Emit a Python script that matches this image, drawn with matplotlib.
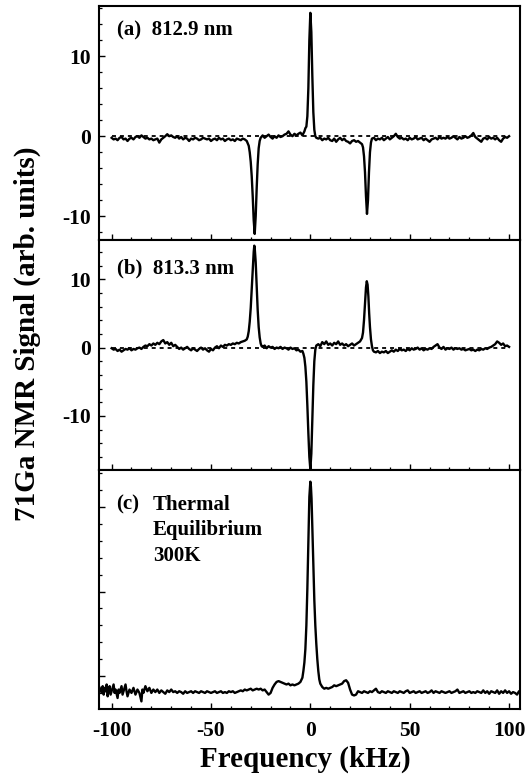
import numpy as np
import matplotlib
matplotlib.use('Agg')
import matplotlib.pyplot as plt
from matplotlib.ticker import MultipleLocator, FixedLocator

# ---- data ----
# (a) 812.9 nm
freq_a = [-100, -99, -98, -97, -96, -95, -94, -93, -92, -91, -90, -89, -88, -87, -86, -85, -84, -83, -82, -81,
          -80, -79, -78, -77, -76, -75, -74, -73, -72, -71, -70, -69, -68, -67, -66, -65, -64, -63, -62, -61,
          -60, -59, -58, -57, -56, -55, -54, -53, -52, -51, -50, -49, -48, -47, -46, -45, -44, -43, -42, -41,
          -40, -39, -38, -37, -36, -35, -34, -33, -32, -31, -30.5, -30, -29.5, -29, -28.5, -28, -27.5, -27,
          -26.5, -26, -25.5, -25, -24, -23, -22, -21, -20, -19, -18, -17, -16, -15, -14, -13, -12, -11, -10,
          -9, -8, -7, -6, -5, -4, -3, -2.5, -2, -1.5, -1, -0.5, 0, 0.5, 1, 1.5, 2, 2.5, 3,
          4, 5, 6, 7, 8, 9, 10, 11, 12, 13, 14, 15, 16, 17, 18, 19, 20, 21, 22, 23, 24, 25,
          26, 26.5, 27, 27.5, 28, 28.5, 29, 29.5, 30, 30.5, 31,
          32, 33, 34, 35, 36, 37, 38, 39, 40, 41, 42, 43, 44, 45, 46, 47, 48, 49, 50, 51, 52, 53, 54, 55,
          56, 57, 58, 59, 60, 61, 62, 63, 64, 65, 66, 67, 68, 69, 70, 71, 72, 73, 74, 75, 76, 77, 78, 79,
          80, 81, 82, 83, 84, 85, 86, 87, 88, 89, 90, 91, 92, 93, 94, 95, 96, 97, 98, 99, 100]
sig_a = [-0.2, -0.4, -0.3, -0.5, -0.2, -0.1, -0.4, -0.3, -0.6, -0.3, -0.2, -0.4, -0.1, 0.0, -0.2, 0.1, -0.1, -0.3, -0.2, -0.4,
         -0.3, -0.5, -0.4, -0.3, -0.8, -0.4, -0.2, 0.0, 0.25, 0.0, 0.1, -0.1, -0.2, 0.0, -0.3, -0.1, -0.4, -0.2, -0.3, -0.6,
         -0.3, -0.4, -0.2, -0.3, -0.5, -0.4, -0.2, -0.3, -0.4, -0.3, -0.6, -0.4, -0.3, -0.5, -0.2, -0.4, -0.3, -0.6, -0.4, -0.3,
         -0.5, -0.4, -0.6, -0.3, -0.4, -0.5, -0.3, -0.4, -0.6, -1.2, -2.0, -3.2, -5.0, -7.5, -10.5, -12.2, -10.0, -6.5,
         -3.5, -1.5, -0.6, -0.2, 0.1, -0.2, 0.0, 0.2, -0.1, -0.3, 0.0, -0.2, 0.1, -0.1, 0.0, 0.2, 0.3, 0.6, 0.2,
         0.0, 0.3, 0.1, 0.3, 0.45, 0.1, 0.6, 1.0, 1.2, 2.5, 6.0, 12.0, 15.4, 13.0, 7.5, 3.0, 0.8, 0.0, -0.2,
         -0.3, -0.2, -0.5, -0.3, -0.4, -0.2, -0.5, -0.6, -0.3, -0.7, -0.4, -0.2, -0.5, -0.3, -0.6, -0.7, -0.9, -0.6, -0.5, -0.7, -0.6, -0.8,
         -1.0, -1.4, -2.5, -4.5, -7.5, -9.7, -8.0, -4.5, -2.0, -0.8, -0.3,
         -0.2, -0.5, -0.3, -0.4, -0.2, -0.5, -0.3, -0.1, -0.4, -0.2, 0.0, 0.3, -0.1, -0.3, -0.2, -0.4, -0.3, -0.5, -0.2, -0.4, -0.3, -0.1, -0.4, -0.3,
         -0.2, -0.5, -0.3, -0.5, -0.7, -0.4, -0.3, -0.2, -0.4, -0.1, -0.3, -0.2, -0.3, -0.1, -0.3, -0.2, 0.0, -0.2, -0.4, -0.1, -0.3, -0.2, 0.0, -0.2,
         -0.1, 0.1, 0.4, -0.1, -0.3, -0.5, -0.7, -0.3, -0.2, -0.4, -0.1, -0.3, -0.2, -0.4, -0.2, -0.5, -0.7, -0.3, -0.1, -0.2, 0.0]

# (b) 813.3 nm
freq_b = [-100, -99, -98, -97, -96, -95, -94, -93, -92, -91, -90, -89, -88, -87, -86, -85, -84, -83, -82, -81,
          -80, -79, -78, -77, -76, -75, -74, -73, -72, -71, -70, -69, -68, -67, -66, -65, -64, -63, -62, -61,
          -60, -59, -58, -57, -56, -55, -54, -53, -52, -51, -50, -49, -48, -47, -46, -45, -44, -43, -42, -41,
          -40, -39, -38, -37, -36, -35, -34, -33, -32, -31.5, -31, -30.5, -30, -29.5, -29, -28.5, -28.2, -28,
          -27.5, -27, -26.5, -26, -25.5, -25, -24.5,
          -24, -23, -22, -21, -20, -19, -18, -17, -16, -15, -14, -13, -12, -11, -10, -9, -8, -7, -6, -5, -4,
          -3.5, -3, -2.5, -2, -1.5, -1, -0.5, 0, 0.5, 1, 1.5, 2, 2.5, 3,
          4, 5, 6, 7, 8, 9, 10, 11, 12, 13, 14, 15, 16, 17, 18, 19, 20, 21, 22, 23, 24, 25,
          26, 26.5, 27, 27.5, 28, 28.4, 28.8, 29.2, 29.6, 30, 30.5, 31, 31.5, 32,
          33, 34, 35, 36, 37, 38, 39, 40, 41, 42, 43, 44, 45, 46, 47, 48, 49, 50, 51, 52, 53, 54, 55, 56,
          57, 58, 59, 60, 61, 62, 63, 64, 65, 66, 67, 68, 69, 70, 71, 72, 73, 74, 75, 76, 77, 78, 79, 80,
          81, 82, 83, 84, 85, 86, 87, 88, 89, 90, 91, 92, 93, 94, 95, 96, 97, 98, 99, 100]
sig_b = [-0.1, -0.3, -0.2, -0.5, -0.3, -0.6, -0.4, -0.2, -0.3, -0.1, -0.4, -0.2, -0.3, -0.1, 0.0, -0.2, 0.1, 0.3, 0.2, 0.5,
         0.3, 0.6, 0.4, 0.7, 0.5, 0.9, 1.1, 0.6, 0.8, 0.4, 0.7, 0.2, 0.4, 0.1, -0.2, 0.0, -0.3, -0.1, 0.1, -0.2,
         -0.4, -0.1, -0.3, -0.5, -0.2, 0.0, -0.3, -0.1, -0.4, -0.6, -0.2, -0.4, 0.0, 0.2, -0.1, 0.3, 0.1, 0.4, 0.3, 0.5,
         0.4, 0.6, 0.5, 0.7, 0.6, 0.8, 0.9, 1.0, 1.2, 1.6, 2.4, 3.8, 5.8, 8.5, 11.5, 14.0, 14.9, 14.6,
         12.5, 9.0, 5.5, 3.0, 1.5, 0.6, 0.2,
         0.1, 0.3, -0.1, 0.2, 0.0, 0.1, -0.2, 0.0, -0.1, 0.1, -0.2, 0.0, -0.1, -0.3, 0.0, -0.2, -0.1, -0.4, -0.3, -0.6, -0.5,
         -0.9, -1.5, -2.8, -5.0, -8.5, -12.5, -16.0, -17.8, -15.5, -10.5, -5.5, -2.0, -0.3, 0.3,
         0.5, 0.2, 0.8, 0.5, 0.9, 0.4, 0.6, 0.3, 0.7, 0.5, 0.9, 0.4, 0.6, 0.3, 0.5, 0.2, 0.4, 0.6, 0.3, 0.5, 0.7, 0.9,
         1.4, 2.2, 4.0, 6.5, 8.8, 9.7, 9.2, 7.5, 5.0, 3.0, 1.2, 0.2, -0.4, -0.6,
         -0.7, -0.5, -0.8, -0.6, -0.7, -0.5, -0.8, -0.6, -0.4, -0.6, -0.3, -0.5, -0.2, -0.4, -0.3, -0.5, -0.2, -0.4, -0.1, -0.3, -0.2, 0.0, -0.3, -0.1,
         -0.4, -0.2, -0.3, -0.1, -0.2, 0.1, 0.3, 0.5, 0.0, -0.2, 0.1, -0.3, -0.1, -0.2, 0.0, -0.3, -0.1, -0.2, -0.1, -0.3, -0.2, -0.4, -0.3, -0.2,
         -0.4, -0.3, -0.5, -0.3, -0.4, -0.2, -0.3, -0.1, -0.2, 0.0, 0.1, 0.3, 0.5, 0.9, 0.7, 0.4, 0.6, 0.2, 0.3, 0.1]

# (c) thermal equilibrium, 300K (arbitrary units, no scale printed)
freq_c = [-106, -105, -104.5, -104, -103.5, -103, -102.5, -102, -101.5, -101, -100.5, -100, -99, -98.5, -98, -97,
          -96.5, -96, -95, -94.5, -94, -93, -92.5, -92, -91, -90, -89, -88, -87, -86, -85, -84.5, -84, -83, -82,
          -81, -80, -79, -78, -77, -76, -75, -74, -73, -72, -71, -70, -69, -68, -67, -66, -65, -64, -63, -62,
          -61, -60, -59, -58, -57, -56, -55, -54, -53, -52, -51, -50, -49, -48, -47, -46, -45, -44, -43, -42,
          -41, -40, -39, -38, -37, -36, -35, -34, -33, -32, -31, -30, -29, -28, -27, -26, -25, -24, -23, -22,
          -21, -20, -19, -18, -17, -16, -15, -14, -13, -12, -11, -10, -9, -8, -7, -6, -5, -4, -3.5, -3, -2.5,
          -2, -1.5, -1, -0.5, 0, 0.3, 0.6, 1, 1.5, 2, 2.5, 3, 3.5, 4, 4.5, 5, 6, 7, 8, 9, 10, 11, 12, 13, 14,
          15, 16, 17, 18, 19, 20, 21, 22, 23, 24, 25, 26, 27, 28, 29, 30, 31, 32, 33, 34, 35, 36, 37, 38, 39,
          40, 41, 42, 43, 44, 45, 46, 47, 48, 49, 50, 51, 52, 53, 54, 55, 56, 57, 58, 59, 60, 61, 62, 63, 64,
          65, 66, 67, 68, 69, 70, 71, 72, 73, 74, 75, 76, 77, 78, 79, 80, 81, 82, 83, 84, 85, 86, 87, 88, 89,
          90, 91, 92, 93, 94, 95, 96, 97, 98, 99, 100, 101, 102, 103, 104, 105, 106]
sig_c = [-0.7, -1.0, -0.6, -1.1, -0.7, -0.9, -0.5, -1.2, -0.8, -0.6, -1.1, -0.9, -0.5, -1.0, -0.8, -1.3,
         -0.8, -1.0, -0.6, -1.1, -0.9, -0.5, -0.9, -1.2, -0.8, -1.0, -0.7, -1.1, -0.8, -1.0, -1.5, -0.8, -1.0, -0.6, -0.9,
         -0.7, -1.0, -0.8, -0.95, -0.8, -1.0, -0.85, -0.95, -1.05, -0.85, -0.95, -0.8, -0.95, -0.9, -1.0, -0.9, -0.95, -1.05, -0.9, -1.0,
         -0.95, -0.9, -1.0, -0.9, -0.95, -1.0, -0.9, -0.95, -1.0, -0.9, -0.95, -1.0, -0.95, -0.9, -1.0, -0.95, -0.9, -1.0, -0.95, -1.0,
         -0.9, -0.95, -0.9, -1.0, -0.95, -0.9, -0.85, -0.9, -0.8, -0.85, -0.8, -0.75, -0.85, -0.8, -0.75, -0.8, -0.75, -0.85, -0.8, -0.95,
         -1.1, -1.0, -0.7, -0.5, -0.35, -0.3, -0.35, -0.4, -0.45, -0.5, -0.45, -0.55, -0.5, -0.55, -0.5, -0.45, -0.35, -0.1, 0.3, 0.8, 1.6,
         3.0, 5.2, 8.0, 10.6, 11.5, 11.2, 10.5, 8.8, 6.5, 4.5, 3.0, 1.9, 1.0, 0.3, -0.2, -0.45, -0.65, -0.75, -0.7, -0.75, -0.7, -0.65, -0.55, -0.6, -0.55,
         -0.5, -0.45, -0.3, -0.25, -0.4, -0.8, -1.1, -1.15, -1.1, -0.9, -0.95, -1.0, -0.9, -0.95, -1.0, -0.9, -0.95, -0.85, -0.75, -0.95, -1.0, -0.9, -0.95, -1.0, -0.9,
         -0.95, -1.0, -0.9, -0.95, -1.0, -0.9, -0.95, -1.0, -0.9, -0.85, -1.0, -0.95, -0.9, -1.0, -0.95, -0.9, -1.0, -0.95, -0.9, -1.0, -0.95, -0.85, -1.0, -0.9, -0.95,
         -1.0, -0.9, -0.95, -1.0, -0.95, -0.9, -1.0, -0.95, -0.9, -0.8, -1.0, -0.95, -0.9, -1.0, -0.95, -0.9, -1.0, -0.95, -1.0, -0.9, -0.95, -1.0, -0.85, -1.0, -0.9,
         -1.05, -0.9, -0.95, -1.0, -0.85, -1.05, -0.9, -1.0, -0.85, -1.0, -0.9, -1.05, -0.95, -1.0, -1.1, -0.9, -0.95]

panel_names = ['(a)  812.9 nm', '(b)  813.3 nm', '(c)']
c_note = 'Thermal\nEquilibrium\n300K'
ylims = [(-12.9, 16.25), (-17.9, 15.8), (-1.95, 12.19)]
yticks_major = [[-10, 0, 10], [-10, 0, 10], [0, 5, 10]]
yticks_minor = [2, 2, 1]

plt.rcParams['font.family'] = 'Liberation Serif'
plt.rcParams['font.weight'] = 'bold'
plt.rcParams['axes.unicode_minus'] = False
plt.rcParams['axes.linewidth'] = 1.5

fig = plt.figure(figsize=(5.29, 7.74), dpi=100)
gs = fig.add_gridspec(3, 1, height_ratios=[233.5, 230.5, 239], hspace=0,
                      left=0.1877, right=0.983, top=0.9922, bottom=0.084)
axes = [fig.add_subplot(gs[i]) for i in range(3)]

data = [(freq_a, sig_a), (freq_b, sig_b), (freq_c, sig_c)]

for i, ax in enumerate(axes):
    f, s = data[i]
    if i < 2:
        ax.plot([-100, 100], [0, 0], color='black', lw=1.3, ls=(0, (2.2, 2.2)), zorder=1)
    ax.plot(f, s, color='black', lw=1.7, zorder=2)
    ax.set_xlim(-106.2, 105.5)
    ax.set_ylim(*ylims[i])
    ax.xaxis.set_major_locator(MultipleLocator(50))
    ax.xaxis.set_minor_locator(MultipleLocator(10))
    ax.yaxis.set_major_locator(FixedLocator(yticks_major[i]))
    ax.yaxis.set_minor_locator(MultipleLocator(yticks_minor[i]))
    ax.tick_params(which='both', direction='in', top=False, right=False)
    ax.tick_params(which='major', length=4.5, width=1.0, labelsize=15.5)
    ax.tick_params(which='minor', length=2.5, width=0.9)
    ax.tick_params(axis='y', pad=6)
    ax.tick_params(axis='x', pad=9)
    if i < 2:
        ax.tick_params(axis='x', labelbottom=False)
    else:
        ax.tick_params(axis='y', labelleft=False)

axes[0].text(0.041, 0.876, panel_names[0], transform=axes[0].transAxes, fontsize=15, va='baseline', ha='left')
axes[1].text(0.043, 0.853, panel_names[1], transform=axes[1].transAxes, fontsize=15, va='baseline', ha='left')
axes[2].text(0.041, 0.897, panel_names[2], transform=axes[2].transAxes, fontsize=15, va='top', ha='left')
axes[2].text(0.127, 0.897, c_note, transform=axes[2].transAxes, fontsize=15, va='top', ha='left', linespacing=1.38)

fig.text(0.052, 0.569, '71Ga NMR Signal (arb. units)', rotation=90, ha='center', va='center', fontsize=21)
fig.text(0.578, 0.009, 'Frequency (kHz)', ha='center', va='baseline', fontsize=21)

fig.savefig('out.png', dpi=100)
plt.close()
